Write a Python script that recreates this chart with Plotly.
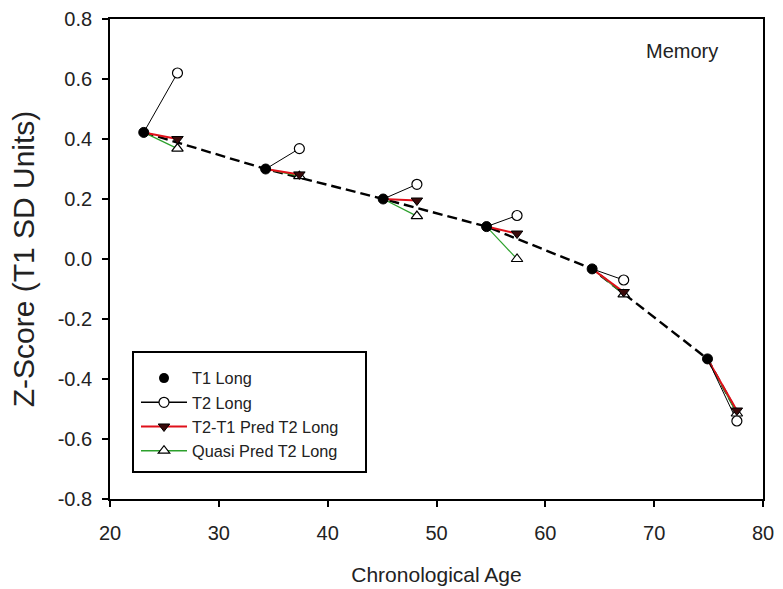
import plotly.graph_objects as go

# Data
t1_age = [23.1, 34.3, 45.1, 54.6, 64.3, 74.9]
t1_z = [0.422, 0.300, 0.200, 0.108, -0.033, -0.333]

t2_age = [26.2, 37.4, 48.2, 57.4, 67.2, 77.6]
t2_z = [0.620, 0.368, 0.249, 0.145, -0.070, -0.540]

pred_z = [0.400, 0.282, 0.195, 0.085, -0.110, -0.505]
quasi_z = [0.368, 0.276, 0.143, 0.000, -0.118, -0.515]

curve_age = [23.1, 34.3, 45.1, 54.6, 64.3, 74.9, 77.6]
curve_z = [0.422, 0.300, 0.200, 0.108, -0.033, -0.333, -0.510]

x_ticks = [20, 30, 40, 50, 60, 70, 80]
y_ticks = [-0.8, -0.6, -0.4, -0.2, 0.0, 0.2, 0.4, 0.6, 0.8]
y_ticktext = ["-0.8", "-0.6", "-0.4", "-0.2", "0.0", "0.2", "0.4", "0.6", "0.8"]

font = "Arial, Liberation Sans, sans-serif"
txt = "#222222"

M_L, M_R, M_T, M_B = 110, 20, 19, 90
PW, PH = 783 - M_L - M_R, 589 - M_T - M_B


def segments(x0, y0, x1, y1):
    xs, ys = [], []
    for a, b, c, d in zip(x0, y0, x1, y1):
        xs += [a, c, None]
        ys += [b, d, None]
    return xs, ys


fig = go.Figure()

# dashed trajectory
fig.add_trace(go.Scatter(x=curve_age, y=curve_z, mode="lines",
                         line=dict(color="black", width=2.4, dash="10px,5px"),
                         showlegend=False, hoverinfo="skip"))

# connecting segments
for yz, col, w in [(quasi_z, "#2ca02c", 1.2), (pred_z, "#e0101a", 2), (t2_z, "black", 1)]:
    sx, sy = segments(t1_age, t1_z, t2_age, yz)
    fig.add_trace(go.Scatter(x=sx, y=sy, mode="lines", line=dict(color=col, width=w),
                             showlegend=False, hoverinfo="skip"))

# markers
fig.add_trace(go.Scatter(x=t2_age, y=quasi_z, mode="markers", showlegend=False,
                         marker=dict(symbol="triangle-up", size=10, color="white",
                                     line=dict(color="black", width=1.2))))
fig.add_trace(go.Scatter(x=t2_age, y=pred_z, mode="markers", showlegend=False,
                         marker=dict(symbol="triangle-down", size=10, color="#3a0a0a",
                                     line=dict(color="black", width=1))))
fig.add_trace(go.Scatter(x=t2_age, y=t2_z, mode="markers", showlegend=False,
                         marker=dict(symbol="circle", size=10, color="white",
                                     line=dict(color="black", width=1.2))))
fig.add_trace(go.Scatter(x=t1_age, y=t1_z, mode="markers", showlegend=False,
                         marker=dict(symbol="circle", size=10, color="black",
                                     line=dict(color="black", width=1))))

# legend entries
fig.add_trace(go.Scatter(x=[None], y=[None], mode="markers", name="T1 Long",
                         marker=dict(symbol="circle", size=10, color="black")))
fig.add_trace(go.Scatter(x=[None], y=[None], mode="lines+markers", name="T2 Long",
                         line=dict(color="black", width=1.5),
                         marker=dict(symbol="circle", size=10, color="white",
                                     line=dict(color="black", width=1.2))))
fig.add_trace(go.Scatter(x=[None], y=[None], mode="lines+markers", name="T2-T1 Pred T2 Long",
                         line=dict(color="#e0101a", width=2),
                         marker=dict(symbol="triangle-down", size=10, color="#3a0a0a",
                                     line=dict(color="black", width=1))))
fig.add_trace(go.Scatter(x=[None], y=[None], mode="lines+markers", name="Quasi Pred T2 Long",
                         line=dict(color="#2ca02c", width=1.5),
                         marker=dict(symbol="triangle-up", size=10, color="white",
                                     line=dict(color="black", width=1.2))))

fig.add_annotation(x=72.6, y=0.695, text="Memory", showarrow=False,
                   xanchor="center", yanchor="middle",
                   font=dict(family=font, size=20, color=txt))

# legend frame
fig.add_shape(type="rect", xref="paper", yref="paper",
              x0=(133 - M_L) / PW, x1=(366 - M_L) / PW,
              y0=(589 - M_B - 472) / PH, y1=(589 - M_B - 352) / PH,
              line=dict(color="black", width=2), fillcolor="rgba(0,0,0,0)", layer="above")

axis_common = dict(showline=True, linecolor="black", linewidth=1.8, mirror=True,
                   ticks="outside", ticklen=6, tickwidth=1.5, tickcolor="black",
                   showgrid=False, zeroline=False, automargin=False,
                   tickfont=dict(family=font, size=20, color=txt))

fig.update_xaxes(range=[20, 80], tickvals=x_ticks, ticklabelstandoff=9,
                 title=dict(text="Chronological Age", font=dict(family=font, size=21, color=txt),
                            standoff=24),
                 **axis_common)
fig.update_yaxes(range=[-0.8, 0.8], tickvals=y_ticks, ticktext=y_ticktext,
                 ticklabelstandoff=6,
                 title=dict(text="Z-Score (T1 SD Units)", font=dict(family=font, size=30, color=txt),
                            standoff=14),
                 **axis_common)

fig.update_layout(
    width=783, height=589,
    margin=dict(l=M_L, r=M_R, t=M_T, b=M_B, autoexpand=False),
    paper_bgcolor="white", plot_bgcolor="white",
    legend=dict(x=(136 - M_L) / PW, y=(589 - M_B - 361) / PH, xanchor="left", yanchor="top",
                bgcolor="rgba(0,0,0,0)", borderwidth=0,
                font=dict(family=font, size=16.3, color=txt),
                tracegroupgap=0, itemwidth=46),
)

fig.write_html("out.html", config={"displayModeBar": False},
               post_script="document.body.style.margin='0';")
